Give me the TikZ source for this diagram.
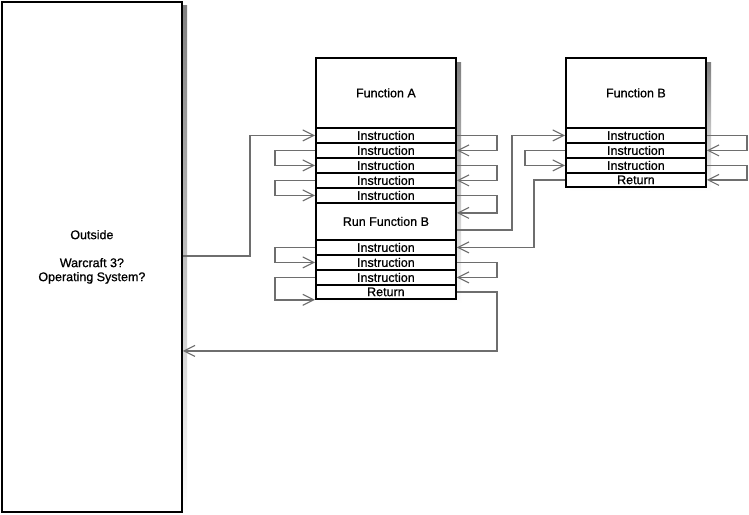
\documentclass[tikz,border=0pt]{standalone}
\usepackage{fontspec}
\setmainfont{Liberation Sans}
\newfontfamily\boxfont{Liberation Sans}[FakeBold=0.8]
\usetikzlibrary{arrows.meta}
\definecolor{conn}{RGB}{110,110,110}
\definecolor{shade}{RGB}{185,185,185}
\tikzset{
  box/.style={draw=black, line width=1.8pt, fill=white, inner sep=0pt, anchor=north west, font=\boxfont\fontsize{12.5}{14}\selectfont, align=center},
  cell/.style={box, minimum width=140pt, minimum height=15pt},
  head/.style={box, minimum width=140pt, minimum height=70pt},
  wire/.style={draw=conn, line width=1.6pt, -{Straight Barb[length=11pt,width=11pt,line width=1.1pt]}}
}
\begin{document}
\begin{tikzpicture}[x=1pt,y=-1pt]
\useasboundingbox (0,0) rectangle (749,514);
\fill[white] (0,0) rectangle (749,514);
% shadows
\fill[shade] (5,5) rectangle (187,514);
\fill[shade] (320,62) rectangle (461,303);
\fill[shade] (570,62) rectangle (711,191);
% Outside
\node[box, minimum width=180pt, minimum height=510pt] (out) at (1,1) {Outside\\[14pt]Warcraft 3?\\Operating System?};
% Function A
\node[head] (ah) at (315,57) {Function A};
\node[cell] (a1) at (315,127) {Instruction};
\node[cell] (a2) at (315,142) {Instruction};
\node[cell] (a3) at (315,157) {Instruction};
\node[cell] (a4) at (315,172) {Instruction};
\node[cell] (a5) at (315,187) {Instruction};
\node[cell, minimum height=37pt] (arun) at (315,202) {Run Function B};
\node[cell] (a6) at (315,239) {Instruction};
\node[cell] (a7) at (315,254) {Instruction};
\node[cell] (a8) at (315,269) {Instruction};
\node[cell, minimum height=14pt] (aret) at (315,284) {Return};
% Function B
\node[head] (bh) at (565,57) {Function B};
\node[cell] (b1) at (565,127) {Instruction};
\node[cell] (b2) at (565,142) {Instruction};
\node[cell] (b3) at (565,157) {Instruction};
\node[cell, minimum height=14pt] (bret) at (565,172) {Return};
% connectors
\draw[wire] ([yshift=1pt]out.east) -- ++(67,0) |- (a1.west);
\draw[wire] (a1.east) -- ++(40,0) |- (a2.east);
\draw[wire] (a2.west) -- ++(-40,0) |- (a3.west);
\draw[wire] (a3.east) -- ++(40,0) |- (a4.east);
\draw[wire] (a4.west) -- ++(-40,0) |- (a5.west);
\draw[wire] (a5.east) -- ++(40,0) |- ([yshift=8.5pt]arun.east);
\draw[wire] ([yshift=-8.5pt]arun.east) -- ++(55,0) |- (b1.west);
\draw[wire] (b1.east) -- ++(40,0) |- (b2.east);
\draw[wire] (b2.west) -- ++(-40,0) |- (b3.west);
\draw[wire] (b3.east) -- ++(40,0) |- (bret.east);
\draw[wire] (bret.west) -- ++(-31,0) |- (a6.east);
\draw[wire] (a6.west) -- ++(-40,0) |- (a7.west);
\draw[wire] (a7.east) -- ++(40,0) |- (a8.east);
\draw[wire] (a8.west) -- ++(-40,0) |- (aret.south west);
\draw[wire] (aret.east) -- ++(40,0) |- ([yshift=-94pt]out.east);
\end{tikzpicture}
\end{document}
